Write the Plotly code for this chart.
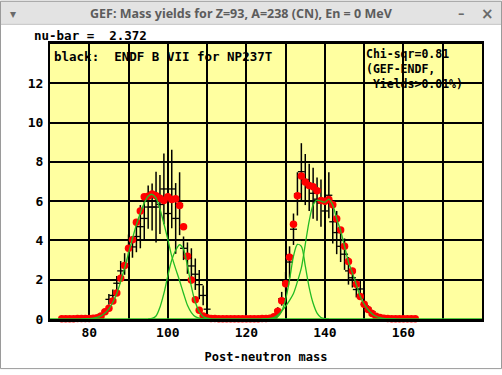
import plotly.graph_objects as go

# ---------------- data ----------------
window_title = "GEF: Mass yields for Z=93, A=238 (CN), En = 0 MeV"
nubar_text = "nu-bar =  2.372"
legend_text = "black:  ENDF B VII for NP237T"
chi_lines = ["Chi-sqr=0.81", "(GEF-ENDF,", " Yields>0.01%)"]
x_title = "Post-neutron mass"

x_tick_vals = [80, 100, 120, 140, 160]
y_tick_vals = [0, 2, 4, 6, 8, 10, 12]

# GEF calculated yields (red dots), masses 73..163
gef_mass = list(range(73, 164))
gef_yield = [
    0.01, 0.01, 0.01, 0.01, 0.02, 0.02, 0.03, 0.03, 0.04,            # 73-81
    0.07, 0.15, 0.37, 0.55, 0.92, 1.33, 2.08, 2.73, 3.60, 4.03,      # 82-91
    4.93, 5.50, 6.23, 6.25, 6.37, 6.28, 6.15, 6.03, 6.23, 6.08,      # 92-101
    6.12, 5.78, 4.70, 3.20, 1.98, 0.98, 0.45, 0.15, 0.06, 0.03,      # 102-111
    0.02, 0.01, 0.01, 0.01, 0.01, 0.01, 0.01, 0.01, 0.01, 0.01,      # 112-121
    0.01, 0.01, 0.02, 0.02,                                          # 122-125
    0.04, 0.12, 0.40, 0.93, 1.80, 3.15, 4.83, 6.28, 7.28, 6.98,      # 126-135
    6.80, 6.73, 6.53, 6.03, 6.00, 6.08, 5.82, 5.10, 4.53, 3.70,      # 136-145
    2.93, 2.45, 1.77, 1.15, 0.75, 0.48, 0.28, 0.14, 0.08, 0.04,      # 146-155
    0.02, 0.01, 0.01, 0.01, 0.01, 0.01, 0.01, 0.01,                  # 156-163
]

# ENDF/B-VII evaluated yields with uncertainties (black error bars)
endf_mass = list(range(80, 113)) + list(range(126, 158))
endf_yield = [
    0.03, 0.07, 0.12, 0.24, 0.40, 1.00, 1.20, 1.82, 2.45, 2.80,      # 80-89
    3.60, 3.67, 4.20, 4.70, 5.12, 5.70, 5.70, 5.70, 5.83, 6.62,      # 90-99
    5.37, 6.62, 5.12, 5.87, 3.60, 3.10, 2.70, 2.28, 1.75, 1.20,      # 100-109
    0.50, 0.12, 0.05,                                                # 110-112
    0.05, 0.15, 0.45, 1.03, 1.90, 2.90, 4.57, 6.37, 7.50, 7.10,      # 126-135
    6.70, 6.40, 6.10, 5.90, 5.50, 6.30, 4.95, 4.40, 3.70, 3.30,      # 136-145
    2.45, 2.10, 1.50, 1.53, 0.75, 0.55, 0.37, 0.20, 0.08, 0.04,      # 146-155
    0.02, 0.01,                                                      # 156-157
]
endf_err = [
    0.01, 0.02, 0.03, 0.06, 0.10, 0.27, 0.30, 0.37, 0.50, 0.55,
    0.70, 0.55, 0.80, 1.10, 1.10, 1.10, 1.20, 1.80, 1.50, 1.80,
    1.60, 2.00, 1.80, 1.60, 0.60, 0.80, 0.90, 0.80, 0.75, 0.50,
    0.30, 0.05, 0.02,
    0.02, 0.05, 0.15, 0.35, 0.50, 0.80, 0.80, 1.10, 1.45, 1.30,
    1.20, 1.30, 1.10, 1.20, 1.00, 1.17, 1.10, 1.10, 0.80, 0.80,
    0.70, 0.50, 0.40, 0.50, 0.20, 0.15, 0.10, 0.06, 0.03, 0.01,
    0.01, 0.01,
]

# Fission-mode components (green curves)
s2_light_mass = list(range(78, 111))
s2_light = [
    0.00, 0.01, 0.02, 0.04, 0.08, 0.16, 0.30, 0.52, 0.85, 1.30,      # 78-87
    1.90, 2.60, 3.35, 4.10, 4.80, 5.40, 5.90, 6.25, 6.35, 6.15,      # 88-97
    5.60, 4.85, 4.05, 3.20, 2.55, 1.95, 1.30, 0.70, 0.33, 0.12,      # 98-107
    0.04, 0.01, 0.00,                                                # 108-110
]
s1_light_mass = list(range(95, 112))
s1_light = [
    0.00, 0.03, 0.15, 0.60, 1.30, 2.20, 3.00, 3.50, 3.78, 3.55,      # 95-104
    2.70, 1.65, 0.85, 0.38, 0.13, 0.04, 0.00,                        # 105-111
]
s1_heavy_mass = list(range(126, 142))
s1_heavy = [
    0.00, 0.03, 0.12, 0.40, 1.00, 2.00, 3.20, 3.80, 3.70, 2.70,      # 126-135
    1.60, 0.80, 0.30, 0.08, 0.02, 0.00,                              # 136-141
]
s2_heavy_mass = list(range(124, 159))
s2_heavy = [
    0.00, 0.01, 0.03, 0.07, 0.20, 0.40, 0.65, 0.95, 1.30, 1.90,      # 124-133
    2.60, 3.80, 5.00, 5.80, 6.05, 6.00, 5.95, 6.10, 5.80, 5.10,      # 134-143
    4.50, 3.70, 2.90, 2.35, 1.75, 1.15, 0.75, 0.47, 0.27, 0.14,      # 144-153
    0.07, 0.03, 0.01, 0.00, 0.00,                                    # 154-158
]
other_modes_mass = [70, 80, 90, 100, 110, 120, 130, 140, 150, 160, 170, 180]
other_modes = [0.0, 0.0, 0.0, 0.0, 0.0, 0.0, 0.0, 0.0, 0.0, 0.0, 0.0, 0.0]

# ---------------- figure ----------------
W, H = 502, 375
L, R, T, B = 50, 20, 44, 51
PW, PH = W - L - R, H - T - B


def px(xp):
    return (xp - L) / PW


def py(yp):
    return (H - B - yp) / PH


MONO = "DejaVu Sans Mono"
GREEN = "#22bb22"

fig = go.Figure()

fig.add_trace(go.Scatter(
    x=endf_mass, y=endf_yield, mode="markers",
    marker=dict(symbol="line-ew", size=5, color="black",
                line=dict(color="black", width=1.3)),
    error_y=dict(type="data", array=endf_err, visible=True,
                 color="black", thickness=1.5, width=0),
    hoverinfo="skip", showlegend=False))

fig.add_trace(go.Scatter(
    x=gef_mass, y=gef_yield, mode="markers",
    marker=dict(color="#ff0000", size=7.5, line=dict(width=0)),
    hoverinfo="skip", showlegend=False, cliponaxis=False))

for mm, vv in [(other_modes_mass, other_modes), (s2_light_mass, s2_light),
               (s1_light_mass, s1_light), (s1_heavy_mass, s1_heavy),
               (s2_heavy_mass, s2_heavy)]:
    fig.add_trace(go.Scatter(
        x=mm, y=vv, mode="lines",
        line=dict(color=GREEN, width=1.3, shape="spline", smoothing=0.8),
        hoverinfo="skip", showlegend=False))

fig.update_layout(
    width=W, height=H, autosize=False,
    margin=dict(l=L, r=R, t=T, b=B),
    paper_bgcolor="white",
    plot_bgcolor="#ffffa0",
    font=dict(family=MONO, size=12, color="black", weight="bold"),
    xaxis=dict(
        range=[70, 180], tickmode="array", tickvals=x_tick_vals,
        showgrid=True, gridcolor="black", gridwidth=1.6,
        minor=dict(dtick=10, tick0=70, showgrid=True, gridcolor="black", gridwidth=1.6),
        showline=True, linecolor="black", linewidth=2.5, mirror=True,
        ticks="", zeroline=False,
        tickfont=dict(family=MONO, size=13, weight="bold"),
        title=dict(text=x_title, font=dict(family=MONO, size=12, weight="bold"), standoff=14),
    ),
    yaxis=dict(
        range=[0, 14], tickmode="array", tickvals=y_tick_vals,
        showgrid=True, gridcolor="black", gridwidth=1.6,
        minor=dict(dtick=2, tick0=0, showgrid=True, gridcolor="black", gridwidth=1.6),
        showline=True, linecolor="black", linewidth=2, mirror=True,
        ticks="", zeroline=False, ticklabelstandoff=2,
        tickfont=dict(family=MONO, size=13, weight="bold"),
    ),
)

shapes = [
    # window title bar
    dict(type="rect", xref="paper", yref="paper",
         x0=px(0), x1=px(W), y0=py(24), y1=py(0),
         fillcolor="#e3e3e3", line=dict(width=0), layer="above"),
    dict(type="line", xref="paper", yref="paper",
         x0=px(0), x1=px(W), y0=py(24), y1=py(24),
         line=dict(color="#c4c4c4", width=1), layer="above"),
    # window frame
    dict(type="rect", xref="paper", yref="paper",
         x0=px(0.5), x1=px(W - 0.5), y0=py(H - 0.5), y1=py(0.5),
         line=dict(color="#9a9a9a", width=1), layer="above"),
]
fig.update_layout(shapes=shapes)

ann = [
    dict(text=window_title, x=px(241), y=py(13), xanchor="center", yanchor="middle",
         font=dict(family="Noto Sans", size=12.5, color="#5c5c5c", weight="bold")),
    dict(text="▾", x=px(13), y=py(13), xanchor="center", yanchor="middle",
         font=dict(family="DejaVu Sans", size=12, color="#6a6a6a")),
    dict(text="–", x=px(461), y=py(13), xanchor="center", yanchor="middle",
         font=dict(family="DejaVu Sans", size=13, color="#6a6a6a", weight="bold")),
    dict(text="×", x=px(487), y=py(13), xanchor="center", yanchor="middle",
         font=dict(family="DejaVu Sans", size=15, color="#6a6a6a")),
    dict(text=nubar_text, x=px(32), y=py(35), xanchor="left", yanchor="middle",
         font=dict(family=MONO, size=12.5, weight="bold")),
    dict(text=legend_text, x=px(52), y=py(57), xanchor="left", yanchor="middle",
         font=dict(family=MONO, size=12.5, weight="bold")),
    dict(text="<br>".join(l.replace(" ", "&nbsp;") for l in chi_lines),
         x=px(364), y=py(69), xanchor="left", yanchor="middle", align="left",
         font=dict(family=MONO, size=11.5, weight="bold")),
]
for a in ann:
    a.update(xref="paper", yref="paper", showarrow=False)
fig.update_layout(annotations=ann)

fig.write_html("out.html", config={"displayModeBar": False, "responsive": False},
               post_script="document.body.style.margin='0';"
                           "document.body.style.overflow='hidden';"
                           "document.documentElement.style.overflow='hidden';")
